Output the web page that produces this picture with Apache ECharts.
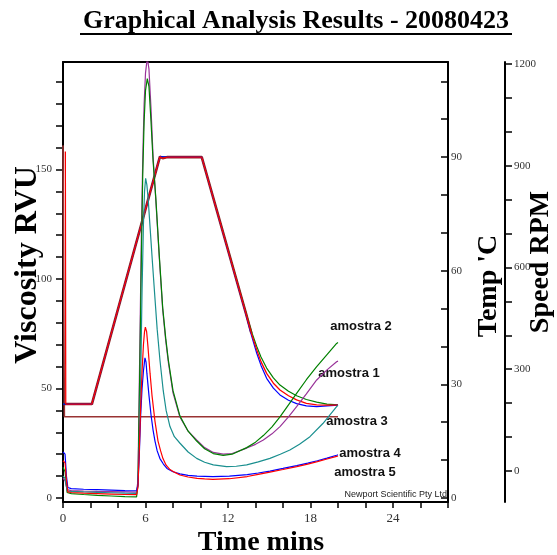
<!DOCTYPE html>
<html><head><meta charset="utf-8">
<script src="https://cdn.jsdelivr.net/npm/echarts@6/dist/echarts.min.js"></script>
<style>html,body{margin:0;padding:0;background:#fff}#c{width:557px;height:555px}</style>
</head><body><div id="c"></div>
<script>
// ---- tick values ----
const timeTicks = [0,2,4,6,8,10,12,14,16,18,20,22,24,26,28];
const timeLabels = [0,6,12,18,24];
const viscTicks = [0,10,20,30,40,50,60,70,80,90,100,110,120,130,140,150,160,170,180,190];
const viscLabels = [0,50,100,150];
const tempTicks = [0,10,20,30,40,50,60,70,80,90,100,110];
const tempLabels = [0,30,60,90];
const speedTicks = [0,100,200,300,400,500,600,700,800,900,1000,1100,1200];
const speedLabels = [0,300,600,900,1200];

// ---- viscosity (RVU) [time min, value] ----
const amostra1 = [[0,9],[0.15,8],[0.3,3.8],[0.6,3.4],[1.5,3.2],[2.5,3.0],[3.5,2.9],[4.5,2.8],[5.35,2.7],[5.45,8],[5.5,30],[5.6,75],[5.7,120],[5.8,155],[5.9,180],[6.0,194],[6.13,201],[6.25,196],[6.4,178],[6.55,156],[6.75,136],[7.0,110],[7.25,86],[7.47,72],[7.66,62],[8.0,48],[8.5,37],[9.1,30.5],[9.72,26.5],[10.3,23],[10.93,20.8],[11.65,20],[12.3,20.3],[13.36,22.8],[14.0,24.5],[14.57,26.5],[15.2,29.3],[15.78,32.6],[16.4,37],[16.99,41.7],[17.7,47.5],[18.45,53.9],[19.2,58.5],[19.9,62.2],[20,62.5]];
const amostra2 = [[0,14],[0.15,12],[0.3,2.5],[0.6,2],[1.5,1.6],[2.5,1.2],[3.5,0.9],[4.5,0.6],[5.35,0.5],[5.45,6],[5.5,25],[5.6,65],[5.7,110],[5.8,148],[5.9,172],[6.0,186],[6.13,191.5],[6.25,188],[6.4,172],[6.55,154],[6.75,137],[7.0,111],[7.25,87],[7.47,73],[7.66,63],[8.0,49],[8.5,37.5],[9.1,30.5],[9.72,26],[10.3,22.5],[10.93,20.3],[11.65,19.5],[12.3,20],[13.36,23],[14.0,25.5],[14.57,28.5],[15.2,32.5],[15.78,37],[16.4,42.5],[16.99,47.8],[17.7,54],[18.45,60],[19.2,65.5],[19.9,70.6],[20,71]];
const amostra3 = [[0,10],[0.15,9],[0.3,3.2],[0.6,3.0],[1.5,2.8],[2.5,2.6],[3.5,2.4],[4.5,2.2],[5.35,2.1],[5.45,6],[5.55,25],[5.65,55],[5.75,95],[5.85,125],[5.93,140],[6.01,146],[6.1,143],[6.2,136],[6.35,122],[6.5,108],[6.69,91],[6.85,77],[7.05,63],[7.29,49],[7.5,40],[7.78,32.6],[8.1,28],[8.51,25],[9.1,21],[9.72,18.1],[10.3,16.3],[10.93,15.1],[11.9,14.3],[12.6,14.5],[13.36,15.1],[14.2,16.5],[15.05,18.1],[15.8,20],[16.5,21.9],[17.2,24.5],[17.96,28],[18.9,34],[19.9,41.7],[20,42.3]];
const amostra4 = [[0,21],[0.15,20],[0.25,10],[0.35,4.8],[0.6,4.3],[1.5,4.0],[2.5,3.8],[3.5,3.6],[4.5,3.4],[5.35,3.3],[5.45,6],[5.55,20],[5.65,38],[5.75,50],[5.85,58],[5.96,64],[6.04,62],[6.1,57],[6.25,47],[6.4,38],[6.55,31],[6.69,26],[6.85,21.5],[7.05,18],[7.3,15.5],[7.56,13.5],[8.0,12],[8.5,11],[9.1,10.3],[9.75,10],[10.9,9.8],[12.1,10],[13.4,10.7],[14.2,11.4],[15.05,12.3],[16.0,13.5],[17.0,14.8],[17.8,15.9],[18.5,17],[19.2,18.2],[19.9,19.5],[20,19.7]];
const amostra5 = [[0,17],[0.15,16],[0.25,8],[0.35,2.8],[0.6,2.5],[1.5,2.2],[2.5,2.0],[3.5,1.8],[4.5,1.6],[5.35,1.5],[5.45,5],[5.55,22],[5.65,42],[5.75,58],[5.85,70],[5.93,76],[5.99,78],[6.08,76],[6.18,69],[6.33,57],[6.47,47],[6.69,35],[6.91,26],[7.1,21.5],[7.27,18],[7.5,15],[7.78,13],[8.1,11.8],[8.5,10.5],[9.1,9.6],[9.75,9],[10.3,8.7],[10.9,8.5],[12.1,8.8],[13.4,9.8],[14.2,10.8],[15.05,11.8],[16.0,13],[17.0,14.3],[17.8,15.5],[18.5,16.6],[19.2,17.8],[19.9,19],[20,19.2]];

// ---- temperature ('C) ----
const tempProfile = [[0,24.8],[2.1,24.8],[7.05,90.1],[7.25,89.7],[7.6,90],[10.09,90],[13.3,48.8],[13.7,43.5]];
const tempRed = [[0.17,91.5],[0.2,24.8],[2.1,24.8],[7.05,90.1],[7.25,89.7],[7.6,90],[10.09,90],[13.3,48.8],[13.7,43.5],[14.09,39.1],[14.4,36],[14.81,32.9],[15.3,30.3],[15.78,28.5],[16.4,27],[16.99,25.9],[17.7,25],[18.45,24.6],[19.2,24.5],[20,24.5]];
const tempGreen = [[0,24.8],[2.1,24.8],[7.05,90.1],[7.6,90],[10.09,90],[13.3,49],[13.7,44],[14.09,40],[14.4,37.2],[14.81,34.3],[15.3,31.7],[15.78,29.8],[16.4,28.2],[16.99,27],[17.7,26],[18.45,25.3],[19.2,24.8],[20,24.6]];
const tempBlue = [[0,24.8],[2.1,24.8],[7.05,90.1],[7.6,90],[10.09,90],[13.3,48.6],[13.7,43],[14.09,38.2],[14.4,35],[14.81,31.6],[15.3,29],[15.78,27.2],[16.4,25.8],[16.99,24.9],[17.7,24.3],[18.45,24.1],[19.2,24.3],[20,24.5]];

// ---- speed (RPM) ----
const speed = [[0,960],[0.1,960],[0.1,160],[20,160]];

const sampleNames = ['amostra 1','amostra 2','amostra 3','amostra 4','amostra 5'];

const serif = 'Liberation Serif';
const chart = echarts.init(document.getElementById('c'));
const tickLbl = {fontFamily: serif, fontSize: 11, color: '#333', formatter: v => String(v)};
const axLine = {show: true, onZero: false, lineStyle: {color: '#000', width: 2}};

function line(name, data, color, yi, w, z) {
  return {name, type: 'line', data, yAxisIndex: yi, showSymbol: false, symbol: 'none',
    lineStyle: {color, width: w}, itemStyle: {color}, z: z, animation: false, clip: true};
}

chart.setOption({
  animation: false,
  backgroundColor: '#fff',
  grid: {left: 63, right: 109, top: 62, bottom: 53},
  xAxis: [{
    type: 'value', min: 0, max: 28, interval: 2,
    axisLine: axLine,
    axisTick: {length: 6, lineStyle: {color: '#000', width: 1.5}},
    axisLabel: {customValues: timeLabels, ...tickLbl, fontSize: 13, margin: 10},
    splitLine: {show: false}
  }, {
    type: 'value', min: 0, max: 28, position: 'top',
    axisLine: axLine,
    axisTick: {show: false}, axisLabel: {show: false}, splitLine: {show: false}
  }],
  yAxis: [{
    type: 'value', min: -1.83, max: 199.1, position: 'left',
    axisLine: axLine,
    axisTick: {show: true, customValues: viscTicks, length: 7, lineStyle: {color: '#000', width: 1.5}},
    axisLabel: {customValues: viscLabels, ...tickLbl, margin: 11},
    splitLine: {show: false}
  }, {
    type: 'value', min: -1.06, max: 115.1, position: 'right',
    axisLine: axLine,
    axisTick: {show: true, inside: true, customValues: tempTicks, length: 7, lineStyle: {color: '#000', width: 1.5}},
    axisLabel: {customValues: tempLabels, ...tickLbl, margin: 3},
    splitLine: {show: false}
  }, {
    type: 'value', min: -91.4, max: 1205.8, position: 'right', offset: 57,
    axisLine: axLine,
    axisTick: {show: true, customValues: speedTicks, length: 7, lineStyle: {color: '#000', width: 1.5}},
    axisLabel: {customValues: speedLabels, ...tickLbl, margin: 9},
    splitLine: {show: false}
  }],
  series: [
    line('speed', speed, '#993333', 2, 1.6, 2),
    line('tempProfile', tempProfile, '#8b2323', 1, 2.6, 3),
    line('tempGreen', tempGreen, '#008000', 1, 1.2, 4),
    line('tempBlue', tempBlue, '#0000ff', 1, 1.2, 4),
    line('tempRed', tempRed, '#ff0000', 1, 1.3, 5),
    line(sampleNames[0], amostra1, '#993399', 0, 1.2, 6),
    line(sampleNames[1], amostra2, '#008000', 0, 1.2, 6),
    line(sampleNames[2], amostra3, '#1a8f8f', 0, 1.2, 6),
    line(sampleNames[3], amostra4, '#0000ff', 0, 1.2, 6),
    line(sampleNames[4], amostra5, '#ff0000', 0, 1.2, 7)
  ],
  graphic: [
    {type: 'text', x: 296, y: 21, style: {text: 'Graphical Analysis Results - 20080423', font: 'bold 26px "Liberation Serif"', fill: '#000', align: 'center', verticalAlign: 'middle'}},
    {type: 'rect', shape: {x: 80, y: 33, width: 432, height: 2}, style: {fill: '#000'}},
    {type: 'text', x: 28, y: 265, rotation: Math.PI/2, style: {text: 'Viscosity RVU', font: 'bold 32px "Liberation Serif"', fill: '#000', align: 'center', verticalAlign: 'middle'}},
    {type: 'text', x: 489, y: 286, rotation: Math.PI/2, style: {text: "Temp 'C", font: 'bold 28px "Liberation Serif"', fill: '#000', align: 'center', verticalAlign: 'middle'}},
    {type: 'text', x: 541, y: 262, rotation: Math.PI/2, style: {text: 'Speed RPM', font: 'bold 28px "Liberation Serif"', fill: '#000', align: 'center', verticalAlign: 'middle'}},
    {type: 'text', x: 261, y: 543, style: {text: 'Time mins', font: 'bold 28px "Liberation Serif"', fill: '#000', align: 'center', verticalAlign: 'middle'}},
    {type: 'text', x: 361, y: 326, style: {text: sampleNames[1], font: 'bold 13px "Liberation Sans"', fill: '#111', align: 'center', verticalAlign: 'middle'}},
    {type: 'text', x: 349, y: 373, style: {text: sampleNames[0], font: 'bold 13px "Liberation Sans"', fill: '#111', align: 'center', verticalAlign: 'middle'}},
    {type: 'text', x: 357, y: 421, style: {text: sampleNames[2], font: 'bold 13px "Liberation Sans"', fill: '#111', align: 'center', verticalAlign: 'middle'}},
    {type: 'text', x: 370, y: 453, style: {text: sampleNames[3], font: 'bold 13px "Liberation Sans"', fill: '#111', align: 'center', verticalAlign: 'middle'}},
    {type: 'text', x: 365, y: 472, style: {text: sampleNames[4], font: 'bold 13px "Liberation Sans"', fill: '#111', align: 'center', verticalAlign: 'middle'}},
    {type: 'text', x: 447, y: 495, style: {text: 'Newport Scientific Pty Ltd', font: '9px "Liberation Sans"', fill: '#222', align: 'right', verticalAlign: 'middle'}}
  ]
});
</script></body></html>
